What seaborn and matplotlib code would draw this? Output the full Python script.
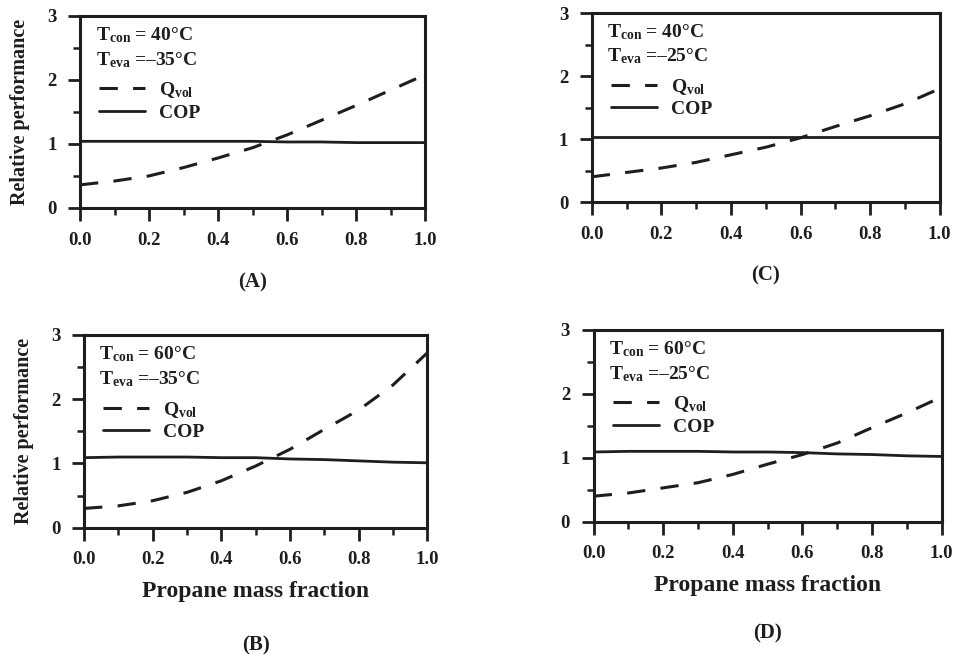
import numpy as np
import pandas as pd
import matplotlib
matplotlib.use("Agg")
import matplotlib.pyplot as plt
import seaborn as sns
from matplotlib.ticker import MultipleLocator

# ---------------- data ----------------
x_frac = [0.0, 0.1, 0.2, 0.3, 0.4, 0.5, 0.6, 0.7, 0.8, 0.9, 1.0]

qvol_A = [0.36, 0.42, 0.50, 0.63, 0.78, 0.94, 1.14, 1.37, 1.60, 1.84, 2.08]
cop_A = [1.04, 1.04, 1.04, 1.04, 1.04, 1.04, 1.03, 1.03, 1.02, 1.02, 1.02]

qvol_B = [0.30, 0.34, 0.42, 0.55, 0.73, 0.96, 1.22, 1.53, 1.83, 2.22, 2.72]
cop_B = [1.09, 1.10, 1.10, 1.10, 1.09, 1.09, 1.07, 1.06, 1.04, 1.02, 1.01]

qvol_C = [0.40, 0.47, 0.54, 0.63, 0.75, 0.87, 1.02, 1.20, 1.37, 1.56, 1.80]
cop_C = [1.04, 1.04, 1.04, 1.04, 1.04, 1.04, 1.04, 1.04, 1.04, 1.04, 1.04]

qvol_D = [0.40, 0.45, 0.53, 0.61, 0.74, 0.90, 1.05, 1.23, 1.47, 1.70, 1.95]
cop_D = [1.09, 1.10, 1.10, 1.10, 1.09, 1.09, 1.08, 1.06, 1.05, 1.03, 1.02]

t_con = ["40", "60", "40", "60"]
t_eva = ["-35", "-35", "-25", "-25"]
panel_tags = ["(A)", "(B)", "(C)", "(D)"]
x_ticks = [0.0, 0.2, 0.4, 0.6, 0.8, 1.0]
y_ticks = [0, 1, 2, 3]
x_label = "Propane mass fraction"
y_label = "Relative performance"

# ---------------- style ----------------
sns.set_theme(style="ticks")
plt.rcParams["font.family"] = ["Liberation Serif", "DejaVu Serif"]
plt.rcParams["font.weight"] = "bold"
plt.rcParams["mathtext.fontset"] = "custom"
plt.rcParams["mathtext.rm"] = "Liberation Serif:bold"
plt.rcParams["mathtext.bf"] = "Liberation Serif:bold"
plt.rcParams["mathtext.it"] = "Liberation Serif:bold"

INK = "#1e1e1e"

fig = plt.figure(figsize=(9.56, 6.58), dpi=100)
fig.patch.set_facecolor("white")

# axes boxes (left, bottom, width, height) in figure fraction
boxes = [
    [0.0837, 0.684, 0.361, 0.292],   # A
    [0.0879, 0.198, 0.359, 0.293],   # B
    [0.619, 0.693, 0.364, 0.287],    # C
    [0.621, 0.207, 0.364, 0.292],    # D
]
qvols = [qvol_A, qvol_B, qvol_C, qvol_D]
cops = [cop_A, cop_B, cop_C, cop_D]
tag_y = [-0.39, -0.61, -0.39, -0.58]

for i in range(4):
    ax = fig.add_axes(boxes[i])
    df = pd.DataFrame({"x": x_frac, "Q": qvols[i], "COP": cops[i]})
    sns.lineplot(data=df, x="x", y="Q", ax=ax, color=INK, lw=2.2,
                 label=r"Q$_{\mathregular{vol}}$")
    ax.lines[-1].set_dashes((6, 5))
    sns.lineplot(data=df, x="x", y="COP", ax=ax, color=INK, lw=2.0, label="COP")

    ax.set_xlim(0, 1.0)
    ax.set_ylim(0, 3)
    ax.set_xticks(x_ticks)
    ax.set_xticklabels([f"{v:.1f}" for v in x_ticks])
    ax.set_yticks(y_ticks)
    ax.xaxis.set_minor_locator(MultipleLocator(0.1))
    ax.yaxis.set_minor_locator(MultipleLocator(0.5))
    ax.tick_params(which="major", direction="out", length=9, width=2.0,
                   color=INK, labelsize=13.5, labelcolor=INK, pad=8)
    ax.tick_params(which="minor", direction="out", length=5, width=1.8, color=INK)
    for s in ax.spines.values():
        s.set_visible(True)
        s.set_linewidth(2.2)
        s.set_color(INK)
    for lab in ax.get_xticklabels() + ax.get_yticklabels():
        lab.set_fontweight("bold")

    ax.set_xlabel(x_label if i in (1, 3) else "", fontsize=17, fontweight="bold",
                  color=INK, labelpad=9)
    ax.set_ylabel(y_label if i in (0, 1) else "", fontsize=14.5, fontweight="bold",
                  color=INK, labelpad=12)

    ax.text(0.045, 0.90, r"T$_{\mathregular{con}}$ = " + t_con[i] + "°C",
            transform=ax.transAxes, fontsize=14, fontweight="bold", color=INK,
            va="center", ha="left")
    ax.text(0.045, 0.77, r"T$_{\mathregular{eva}}$ =" + t_eva[i].replace("-", "–") + "°C",
            transform=ax.transAxes, fontsize=14, fontweight="bold", color=INK,
            va="center", ha="left")
    leg = ax.legend(loc="upper left", bbox_to_anchor=(0.015, 0.735), frameon=False,
                    fontsize=14, handlelength=2.4, handletextpad=0.7,
                    labelspacing=0.2, borderpad=0.2)
    for t in leg.get_texts():
        t.set_color(INK)
        t.set_fontweight("bold")

    ax.text(0.5, tag_y[i], panel_tags[i],
            transform=ax.transAxes, fontsize=15, fontweight="bold", color=INK,
            ha="center", va="center")

fig.savefig("out.png", dpi=100, facecolor="white")
